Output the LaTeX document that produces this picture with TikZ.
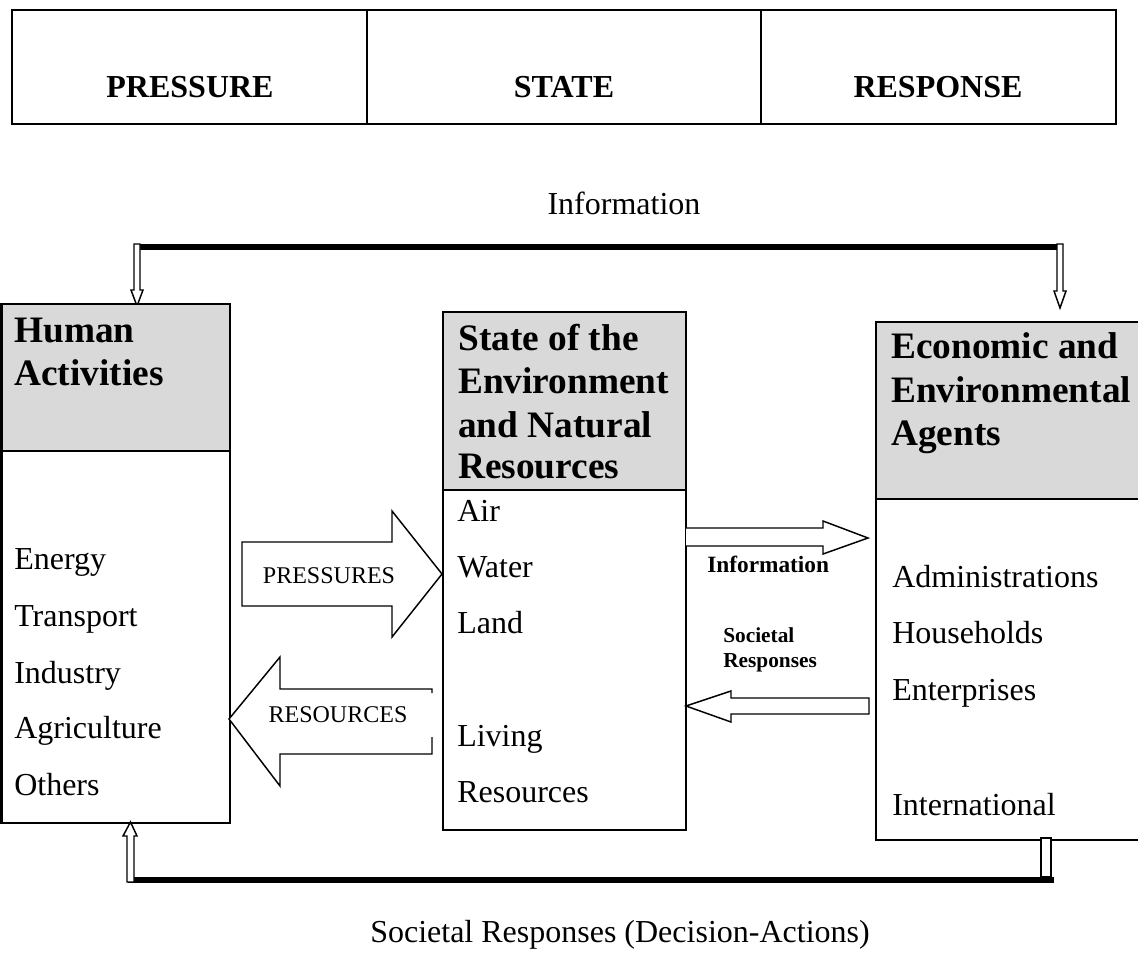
\documentclass[tikz,border=0pt]{standalone}
\usepackage{fontspec}
\setmainfont{Liberation Serif}
\usetikzlibrary{fit}
\definecolor{hdgray}{RGB}{217,217,217}
\tikzset{
  boxline/.style={line width=1.9pt},
  hd/.style={font=\fontsize{28}{32}\selectfont\bfseries, anchor=base west, inner sep=0pt},
  item/.style={font=\fontsize{24}{28}\selectfont, anchor=base west, inner sep=0pt},
  toplab/.style={font=\fontsize{24}{28}\selectfont\bfseries, anchor=base, inner sep=0pt},
  biglab/.style={font=\fontsize{24}{28}\selectfont, anchor=base, inner sep=0pt},
  arrlab/.style={font=\fontsize{18}{22}\selectfont, anchor=base, inner sep=0pt},
  smallbold/.style={font=\fontsize{16}{19}\selectfont\bfseries, anchor=base west, inner sep=0pt},
  blockarrow/.style={draw=black, fill=white, line width=1.1pt, line join=miter},
  thinarrow/.style={draw=black, fill=white, line width=1.1pt, line join=miter},
  thickline/.style={line width=4.5pt, line cap=butt},
}
\begin{document}
\begin{tikzpicture}[x=0.75pt,y=-0.75pt]
\useasboundingbox (0,0) rectangle (1138,953);

% ---------- top table ----------
\node[fit={(12,10)(1116,124)}, inner sep=0pt, draw, line width=1.7pt] (table) {};
\draw[line width=1.2pt] (367,10) -- (367,124);
\draw[line width=1.2pt] (761,10) -- (761,124);
\node[toplab] (tp) at (190,97) {PRESSURE};
\node[toplab] (ts) at (564,97) {STATE};
\node[toplab] (tr) at (938,97) {RESPONSE};

% ---------- top information loop ----------
\node[biglab] (infotop) at (624,214) {Information};
\coordinate (tl) at (137,247);
\coordinate (trr) at (1060,247);
\draw[thickline] (134,247) -- (1063,247);
\draw[thinarrow] (134,244) -- (134,290) -- (131,290) -- (137,306) -- (143,290) -- (140,290) -- (140,244) -- cycle;
\draw[thinarrow] (1057,244) -- (1057,291) -- (1054,291) -- (1060,308) -- (1066,291) -- (1063,291) -- (1063,244) -- cycle;

% ---------- Human Activities box ----------
\fill[hdgray] (1.5,304) rectangle (230,451);
\node[fit={(1.5,304)(230,823)}, inner sep=0pt, draw, boxline] (human) {};
\draw[boxline] (1.5,451) -- (230,451);
\node[hd] (h1) at (14,342) {Human};
\node[hd] (h2) at (14,385) {Activities};
\node[item] (hi1) at (14,569) {Energy};
\node[item] (hi2) at (14,626) {Transport};
\node[item] (hi3) at (14,683) {Industry};
\node[item] (hi4) at (14,738) {Agriculture};
\node[item] (hi5) at (14,795) {Others};

% ---------- State box ----------
\fill[hdgray] (443,312) rectangle (686,490);
\node[fit={(443,312)(686,830)}, inner sep=0pt, draw, boxline] (state) {};
\draw[boxline] (443,490) -- (686,490);
\node[hd] (s1) at (458,350) {State of the};
\node[hd] (s2) at (458,393) {Environment};
\node[hd] (s3) at (458,437) {and Natural};
\node[hd] (s4) at (458,478) {Resources};
\node[item] (si1) at (457,521) {Air};
\node[item] (si2) at (457,577) {Water};
\node[item] (si3) at (457,633) {Land};
\node[item] (si4) at (457,746) {Living};
\node[item] (si5) at (457,802) {Resources};

% ---------- Agents box (open to the right) ----------
\fill[hdgray] (876,322) rectangle (1138,499);
\coordinate (agents) at (876,322);
\draw[boxline] (1138,322) -- (876,322) -- (876,840) -- (1138,840);
\draw[boxline] (876,499) -- (1138,499);
\node[hd] (e1) at (891,358) {Economic and};
\node[hd] (e2) at (891,402) {Environmental};
\node[hd] (e3) at (891,445) {Agents};
\node[item] (ei1) at (892,587) {Administrations};
\node[item] (ei2) at (892,643) {Households};
\node[item] (ei3) at (892,700) {Enterprises};
\node[item] (ei4) at (892,815) {International};

% ---------- block arrows ----------
\draw[blockarrow] (242,542) -- (392,542) -- (392,511) -- (442,574) -- (392,637) -- (392,606) -- (242,606) -- cycle;
\node[arrlab] (pl) at (329,583) {PRESSURES};

\fill[white] (432,689) -- (280,689) -- (280,657) -- (229,719) -- (280,786) -- (280,754) -- (432,754) -- cycle;
\draw[blockarrow, fill=none] (432,737) -- (432,754) -- (280,754) -- (280,786) -- (229,719) -- (280,657) -- (280,689) -- (432,689) -- (432,693);
\node[arrlab] (rl) at (338,722) {RESOURCES};

\fill[white] (686,528) -- (823,528) -- (823,521) -- (868,538) -- (823,554) -- (823,546) -- (686,546) -- cycle;
\draw[blockarrow, fill=none] (686,528) -- (823,528) -- (823,521) -- (868,538) -- (823,554) -- (823,546) -- (686,546);
\node[font=\fontsize{17.5}{20}\selectfont\bfseries, anchor=base west, inner sep=0pt] (il) at (707,572) {Information};

\draw[blockarrow] (869,698) -- (731,698) -- (731,691) -- (686,706) -- (731,722) -- (731,714) -- (869,714) -- cycle;
\node[smallbold] (sr1) at (723,642) {Societal};
\node[smallbold] (sr2) at (723,667) {Responses};

% ---------- bottom societal responses loop ----------
\draw[thickline] (128,879.5) -- (1054,879.5);
\draw[thinarrow] (127,882) -- (127,836) -- (123,836) -- (130.5,822) -- (137,836) -- (134,836) -- (134,882) -- cycle;
\draw[thinarrow] (1041,838) rectangle (1051,877);
\node[biglab] (bot) at (620,942) {Societal Responses (Decision-Actions)};
\end{tikzpicture}
\end{document}
